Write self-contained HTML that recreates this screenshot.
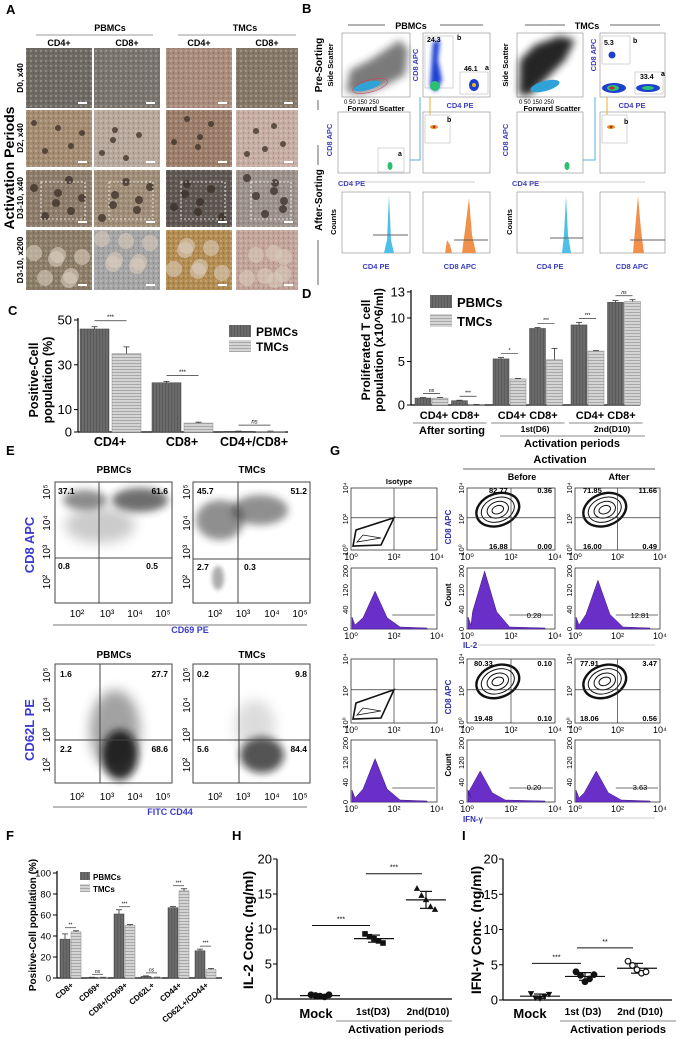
<!DOCTYPE html>
<html><head><meta charset="utf-8">
<style>
html,body{margin:0;padding:0;background:#fff;}
svg{display:block;font-family:"Liberation Sans",Arial,sans-serif;}
.b{font-weight:bold}
</style></head>
<body>
<svg id="fig" width="680" height="1039" viewBox="0 0 680 1039" xmlns="http://www.w3.org/2000/svg">
<defs>
<filter id="bl2" x="-50%" y="-50%" width="200%" height="200%"><feGaussianBlur stdDeviation="2"/></filter>
<filter id="bl4" x="-50%" y="-50%" width="200%" height="200%"><feGaussianBlur stdDeviation="4"/></filter>
<filter id="bl6" x="-50%" y="-50%" width="200%" height="200%"><feGaussianBlur stdDeviation="6"/></filter>
<pattern id="hstripe" width="4" height="3" patternUnits="userSpaceOnUse"><rect width="4" height="3" fill="#d4d4d4"/><rect width="4" height="1" fill="#a8a8a8"/></pattern>
<pattern id="dstripe" width="3" height="4" patternUnits="userSpaceOnUse"><rect width="3" height="4" fill="#6a6a6a"/><rect width="1" height="4" fill="#5a5a5a"/></pattern>
<pattern id="dots" width="5" height="5" patternUnits="userSpaceOnUse"><rect width="5" height="5" fill="none"/><circle cx="1" cy="1" r="0.7" fill="#fff" opacity="0.5"/><circle cx="3.5" cy="3" r="0.6" fill="#000" opacity="0.3"/></pattern>
</defs>

<!-- ================= PANEL A ================= -->
<g>
<text x="6" y="14" font-size="13" class="b">A</text>
<text x="110" y="31" font-size="9" class="b" text-anchor="middle">PBMCs</text>
<line x1="36" y1="35" x2="153" y2="35" stroke="#999" stroke-width="1"/>
<text x="245" y="31" font-size="9" class="b" text-anchor="middle">TMCs</text>
<line x1="178" y1="35" x2="296" y2="35" stroke="#999" stroke-width="1"/>
<text x="59" y="46" font-size="9" class="b" text-anchor="middle">CD4+</text>
<text x="127" y="46" font-size="9" class="b" text-anchor="middle">CD8+</text>
<text x="199" y="46" font-size="9" class="b" text-anchor="middle">CD4+</text>
<text x="267" y="46" font-size="9" class="b" text-anchor="middle">CD8+</text>
<text transform="translate(14,168) rotate(-90)" font-size="14" class="b" text-anchor="middle">Activation Periods</text>
<text transform="translate(23,78) rotate(-90)" font-size="8.5" class="b" text-anchor="middle">D0, x40</text>
<text transform="translate(23,138) rotate(-90)" font-size="8.5" class="b" text-anchor="middle">D2, x40</text>
<text transform="translate(23,198) rotate(-90)" font-size="8.5" class="b" text-anchor="middle">D3-10, x40</text>
<text transform="translate(23,260) rotate(-90)" font-size="8.5" class="b" text-anchor="middle">D3-10, x200</text>
<g id="photos"></g>
</g>

<!-- ================= PANEL B ================= -->
<g>
<text x="302" y="13" font-size="13" class="b">B</text>
<line x1="348" y1="25" x2="385" y2="25" stroke="#666"/><line x1="440" y1="25" x2="483" y2="25" stroke="#666"/>
<text x="411" y="29" font-size="9" class="b" text-anchor="middle">PBMCs</text>
<line x1="525" y1="25" x2="565" y2="25" stroke="#666"/><line x1="610" y1="25" x2="660" y2="25" stroke="#666"/>
<text x="587" y="29" font-size="9" class="b" text-anchor="middle">TMCs</text>
<text transform="translate(322,65) rotate(-90)" font-size="10" class="b" text-anchor="middle">Pre-Sorting</text>
<text transform="translate(322,200) rotate(-90)" font-size="10" class="b" text-anchor="middle">After-Sorting</text>
<line x1="318" y1="100" x2="318" y2="110" stroke="#666"/>
<line x1="318" y1="145" x2="318" y2="165" stroke="#666"/>
<line x1="318" y1="240" x2="318" y2="285" stroke="#666"/>
<g>
<rect x="342" y="33" width="68" height="64" fill="#fff" stroke="#888" stroke-width="0.6"/>
<path d="M346,92 L350,70 L370,60 L400,40 L408,50 L405,75 L380,88 L360,94 Z" fill="#222" opacity="0.6" filter="url(#bl4)"/>
<ellipse cx="367" cy="86" rx="14" ry="4" fill="#2fa3d8" transform="rotate(-15 367 86)"/>
<ellipse cx="370" cy="86" rx="18" ry="6" fill="none" stroke="#d04060" stroke-width="0.6" transform="rotate(-15 370 86)"/>
</g>
<text transform="translate(333,65) rotate(-90)" font-size="7.5" class="b" text-anchor="middle">Side Scatter</text>
<text x="344" y="104" font-size="6">0   50    150   250</text>
<text x="376" y="111" font-size="7.5" class="b" text-anchor="middle">Forward Scatter</text>
<g>
<rect x="423" y="33" width="67" height="64" fill="#fff" stroke="#888" stroke-width="0.6"/>
<rect x="425" y="36" width="28" height="52" fill="none" stroke="#aaa" stroke-width="0.5"/>
<rect x="460" y="72" width="28" height="22" fill="none" stroke="#aaa" stroke-width="0.5"/>
<path d="M433,42 L440,40 L438,60 L442,80 L436,92 L430,86 Z" fill="#1e3fd0" filter="url(#bl2)"/>
<ellipse cx="435" cy="86" rx="5" ry="5" fill="#2bc070"/>
<ellipse cx="474" cy="85" rx="5" ry="6" fill="#1e3fd0"/><ellipse cx="474" cy="85" rx="2" ry="2" fill="#e0c020"/>
<text x="427" y="42" font-size="7" class="b">24.3</text><text x="457" y="40" font-size="7" class="b">b</text>
<text x="464" y="71" font-size="7" class="b">46.1</text><text x="485" y="70" font-size="7" class="b">a</text>
</g>
<text transform="translate(418,65) rotate(-90)" font-size="7.5" class="b" fill="#4040c0" text-anchor="middle">CD8 APC</text>
<text x="460" y="108" font-size="7.5" class="b" fill="#4040c0" text-anchor="middle">CD4 PE</text>
<g>
<rect x="517" y="33" width="66" height="64" fill="#fff" stroke="#888" stroke-width="0.6"/>
<path d="M519,95 L520,60 L535,45 L560,36 L575,40 L565,60 L545,80 L530,95 Z" fill="#000" opacity="0.85" filter="url(#bl4)"/>
<ellipse cx="545" cy="86" rx="15" ry="5" fill="#2fa3d8" transform="rotate(-15 545 86)"/>
</g>
<text transform="translate(508,65) rotate(-90)" font-size="7.5" class="b" text-anchor="middle">Side Scatter</text>
<text x="519" y="104" font-size="6">0   50    150   250</text>
<text x="552" y="111" font-size="7.5" class="b" text-anchor="middle">Forward Scatter</text>
<g>
<rect x="600" y="33" width="65" height="64" fill="#fff" stroke="#888" stroke-width="0.6"/>
<rect x="602" y="36" width="28" height="28" fill="none" stroke="#aaa" stroke-width="0.5"/>
<rect x="635" y="72" width="28" height="22" fill="none" stroke="#aaa" stroke-width="0.5"/>
<circle cx="612" cy="55" r="3.5" fill="#1e3fd0"/>
<ellipse cx="614" cy="88" rx="12" ry="5" fill="#1e3fd0"/><ellipse cx="613" cy="88" rx="6" ry="3" fill="#2bc070"/><ellipse cx="612" cy="88" rx="2.5" ry="1.5" fill="#d02020"/>
<ellipse cx="648" cy="88" rx="12" ry="4" fill="#1e3fd0"/><ellipse cx="648" cy="88" rx="6" ry="2" fill="#2bc070"/>
<text x="604" y="45" font-size="7" class="b">5.3</text><text x="633" y="43" font-size="7" class="b">b</text>
<text x="640" y="79" font-size="7" class="b">33.4</text><text x="661" y="76" font-size="7" class="b">a</text>
</g>
<text transform="translate(596,55) rotate(-90)" font-size="7.5" class="b" fill="#4040c0" text-anchor="middle">CD8 APC</text>
<text x="632" y="108" font-size="7.5" class="b" fill="#4040c0" text-anchor="middle">CD4 PE</text>
<rect x="338" y="112" width="72" height="61" fill="#fff" stroke="#888" stroke-width="0.6"/>
<rect x="378" y="148" width="26" height="24" fill="none" stroke="#aaa" stroke-width="0.5"/>
<ellipse cx="390" cy="166" rx="2.5" ry="4" fill="#2bc070"/>
<text x="398" y="156" font-size="7" class="b">a</text>
<path d="M410,160 L420,160 L420,97" fill="none" stroke="#5bb0d8" stroke-width="1"/>
<rect x="423" y="112" width="67" height="61" fill="#fff" stroke="#888" stroke-width="0.6"/>
<rect x="425" y="115" width="25" height="28" fill="none" stroke="#aaa" stroke-width="0.5"/>
<ellipse cx="434" cy="127" rx="4" ry="2" fill="#e09020"/><circle cx="434" cy="127" r="1.2" fill="#c02020"/>
<text x="447" y="122" font-size="7" class="b">b</text>
<line x1="430" y1="97" x2="430" y2="115" stroke="#e0b030"/>
<text transform="translate(332,140) rotate(-90)" font-size="7.5" class="b" fill="#4040c0" text-anchor="middle">CD8 APC</text>
<text x="338" y="186" font-size="7.5" class="b" fill="#4040c0">CD4 PE</text>
<line x1="340" y1="182" x2="475" y2="182" stroke="#999" stroke-width="0.6"/>
<rect x="517" y="112" width="66" height="61" fill="#fff" stroke="#888" stroke-width="0.6"/>
<ellipse cx="567" cy="166" rx="2.5" ry="4" fill="#2bc070"/>
<path d="M583,160 L595,160 L595,97" fill="none" stroke="#5bb0d8" stroke-width="1"/>
<rect x="600" y="112" width="65" height="61" fill="#fff" stroke="#888" stroke-width="0.6"/>
<rect x="602" y="115" width="25" height="28" fill="none" stroke="#aaa" stroke-width="0.5"/>
<ellipse cx="611" cy="127" rx="4" ry="2" fill="#e09020"/><circle cx="611" cy="127" r="1.2" fill="#c02020"/>
<text x="624" y="124" font-size="7" class="b">b</text>
<line x1="607" y1="97" x2="607" y2="115" stroke="#e0b030"/>
<text transform="translate(508,140) rotate(-90)" font-size="7.5" class="b" fill="#4040c0" text-anchor="middle">CD8 APC</text>
<text x="512" y="186" font-size="7.5" class="b" fill="#4040c0">CD4 PE</text>
<line x1="515" y1="182" x2="645" y2="182" stroke="#999" stroke-width="0.6"/>
<g>
<rect x="342" y="192" width="68" height="61" fill="#fff" stroke="#888" stroke-width="0.6"/>
<path d="M384,253 L387,240 L389,195 L391,240 L394,253 Z" fill="#4cc0e8"/>
<line x1="373" y1="235" x2="408" y2="235" stroke="#666"/>
<rect x="423" y="192" width="67" height="61" fill="#fff" stroke="#888" stroke-width="0.6"/>
<path d="M445,253 L447,240 L450,245 L452,253 L462,253 L465,230 L469,198 L472,235 L476,253 Z" fill="#f0904a"/>
<line x1="454" y1="240" x2="488" y2="240" stroke="#666"/>
<rect x="517" y="192" width="66" height="61" fill="#fff" stroke="#888" stroke-width="0.6"/>
<path d="M562,253 L564,235 L566,196 L568,235 L571,253 Z" fill="#4cc0e8"/>
<line x1="550" y1="238" x2="583" y2="238" stroke="#666"/>
<rect x="600" y="192" width="65" height="61" fill="#fff" stroke="#888" stroke-width="0.6"/>
<path d="M633,253 L635,230 L638,196 L641,230 L644,253 Z" fill="#f0904a"/>
<line x1="630" y1="240" x2="665" y2="240" stroke="#666"/>
</g>
<text transform="translate(336,222) rotate(-90)" font-size="7.5" class="b" text-anchor="middle">Counts</text>
<text transform="translate(512,222) rotate(-90)" font-size="7.5" class="b" text-anchor="middle">Counts</text>
<text x="376" y="269" font-size="7.5" class="b" fill="#4040c0" text-anchor="middle">CD4 PE</text>
<text x="460" y="269" font-size="7.5" class="b" fill="#4040c0" text-anchor="middle">CD8 APC</text>
<text x="550" y="269" font-size="7.5" class="b" fill="#4040c0" text-anchor="middle">CD4 PE</text>
<text x="632" y="269" font-size="7.5" class="b" fill="#4040c0" text-anchor="middle">CD8 APC</text>
</g>

<!-- ================= PANEL C ================= -->
<g id="panelC">
<text x="8" y="315" font-size="13" class="b">C</text>
<text transform="translate(38,380) rotate(-90)" font-size="12.5" class="b" text-anchor="middle">Positive-Cell</text>
<text transform="translate(52,380) rotate(-90)" font-size="12.5" class="b" text-anchor="middle">population (%)</text>
</g>

<!-- ================= PANEL D ================= -->
<g id="panelD">
<text x="302" y="298" font-size="13" class="b">D</text>
<text transform="translate(370,350) rotate(-90)" font-size="12" class="b" text-anchor="middle">Proliferated T cell</text>
<text transform="translate(383,350) rotate(-90)" font-size="12" class="b" text-anchor="middle">population (x10^6/ml)</text>
</g>

<!-- ================= PANEL E ================= -->
<g>
<text x="6" y="455" font-size="13" class="b">E</text>
<text x="114" y="473" font-size="10" class="b" text-anchor="middle">PBMCs</text>
<text x="252" y="473" font-size="10" class="b" text-anchor="middle">TMCs</text>
<text transform="translate(34,545) rotate(-90)" font-size="13" class="b" fill="#3a3ad0" text-anchor="middle">CD8 APC</text>
<g>
<rect x="55" y="482" width="117" height="121" fill="#fff"/>
<ellipse cx="85" cy="500" rx="22" ry="10" fill="#333" opacity="0.55" filter="url(#bl4)"/>
<ellipse cx="140" cy="500" rx="28" ry="12" fill="#222" opacity="0.65" filter="url(#bl4)"/>
<ellipse cx="100" cy="525" rx="35" ry="18" fill="#555" opacity="0.3" filter="url(#bl6)"/>
<rect x="55" y="482" width="117" height="121" fill="none" stroke="#444"/>
<line x1="99" y1="482" x2="99" y2="603" stroke="#444"/><line x1="55" y1="558" x2="172" y2="558" stroke="#444"/>
<text x="58" y="494" font-size="8.5" class="b">37.1</text><text x="168" y="494" font-size="8.5" class="b" text-anchor="end">61.6</text>
<text x="58" y="569" font-size="8.5" class="b">0.8</text><text x="158" y="569" font-size="8.5" class="b" text-anchor="end">0.5</text>
</g>
<g>
<rect x="193" y="482" width="117" height="121" fill="#fff"/>
<ellipse cx="220" cy="520" rx="24" ry="20" fill="#222" opacity="0.5" filter="url(#bl4)"/>
<ellipse cx="260" cy="510" rx="28" ry="15" fill="#222" opacity="0.5" filter="url(#bl4)"/>
<ellipse cx="218" cy="578" rx="6" ry="12" fill="#333" opacity="0.4" filter="url(#bl2)"/>
<rect x="193" y="482" width="117" height="121" fill="none" stroke="#444"/>
<line x1="238" y1="482" x2="238" y2="603" stroke="#444"/><line x1="193" y1="559" x2="310" y2="559" stroke="#444"/>
<text x="197" y="494" font-size="8.5" class="b">45.7</text><text x="307" y="494" font-size="8.5" class="b" text-anchor="end">51.2</text>
<text x="197" y="570" font-size="8.5" class="b">2.7</text><text x="244" y="570" font-size="8.5" class="b">0.3</text>
</g>
<g font-size="10">
<text x="77" y="617" text-anchor="middle">10²</text><text x="107" y="617" text-anchor="middle">10³</text><text x="135" y="617" text-anchor="middle">10⁴</text><text x="163" y="617" text-anchor="middle">10⁵</text>
<text x="215" y="617" text-anchor="middle">10²</text><text x="243" y="617" text-anchor="middle">10³</text><text x="272" y="617" text-anchor="middle">10⁴</text><text x="300" y="617" text-anchor="middle">10⁵</text>
<text transform="translate(50,492) rotate(-90)" text-anchor="middle">10⁵</text><text transform="translate(50,523) rotate(-90)" text-anchor="middle">10⁴</text>
<text transform="translate(50,552) rotate(-90)" text-anchor="middle">10³</text><text transform="translate(50,582) rotate(-90)" text-anchor="middle">10²</text>
<text transform="translate(190,492) rotate(-90)" text-anchor="middle">10⁵</text><text transform="translate(190,523) rotate(-90)" text-anchor="middle">10⁴</text>
<text transform="translate(190,552) rotate(-90)" text-anchor="middle">10³</text><text transform="translate(190,582) rotate(-90)" text-anchor="middle">10²</text>
</g>
<line x1="53" y1="625" x2="307" y2="625" stroke="#777"/>
<text x="190" y="633" font-size="9" class="b" fill="#3a3ad0" text-anchor="middle">CD69 PE</text>

<text x="114" y="658" font-size="10" class="b" text-anchor="middle">PBMCs</text>
<text x="252" y="658" font-size="10" class="b" text-anchor="middle">TMCs</text>
<text transform="translate(34,730) rotate(-90)" font-size="13" class="b" fill="#3a3ad0" text-anchor="middle">CD62L PE</text>
<g>
<rect x="55" y="664" width="117" height="119" fill="#fff"/>
<ellipse cx="115" cy="730" rx="25" ry="40" fill="#333" opacity="0.45" filter="url(#bl6)"/>
<ellipse cx="120" cy="755" rx="18" ry="25" fill="#111" opacity="0.85" filter="url(#bl4)"/>
<rect x="55" y="664" width="117" height="119" fill="none" stroke="#444"/>
<line x1="100" y1="664" x2="100" y2="783" stroke="#444"/><line x1="55" y1="740" x2="172" y2="740" stroke="#444"/>
<text x="60" y="677" font-size="8.5" class="b">1.6</text><text x="168" y="677" font-size="8.5" class="b" text-anchor="end">27.7</text>
<text x="60" y="752" font-size="8.5" class="b">2.2</text><text x="168" y="752" font-size="8.5" class="b" text-anchor="end">68.6</text>
</g>
<g>
<rect x="193" y="664" width="117" height="119" fill="#fff"/>
<ellipse cx="262" cy="755" rx="22" ry="18" fill="#111" opacity="0.7" filter="url(#bl4)"/>
<ellipse cx="255" cy="725" rx="20" ry="25" fill="#555" opacity="0.2" filter="url(#bl6)"/>
<rect x="193" y="664" width="117" height="119" fill="none" stroke="#444"/>
<line x1="239" y1="664" x2="239" y2="783" stroke="#444"/><line x1="193" y1="740" x2="310" y2="740" stroke="#444"/>
<text x="197" y="677" font-size="8.5" class="b">0.2</text><text x="307" y="677" font-size="8.5" class="b" text-anchor="end">9.8</text>
<text x="197" y="752" font-size="8.5" class="b">5.6</text><text x="307" y="752" font-size="8.5" class="b" text-anchor="end">84.4</text>
</g>
<g font-size="10">
<text x="77" y="800" text-anchor="middle">10²</text><text x="107" y="800" text-anchor="middle">10³</text><text x="135" y="800" text-anchor="middle">10⁴</text><text x="163" y="800" text-anchor="middle">10⁵</text>
<text x="215" y="800" text-anchor="middle">10²</text><text x="243" y="800" text-anchor="middle">10³</text><text x="272" y="800" text-anchor="middle">10⁴</text><text x="300" y="800" text-anchor="middle">10⁵</text>
<text transform="translate(50,675) rotate(-90)" text-anchor="middle">10⁵</text><text transform="translate(50,705) rotate(-90)" text-anchor="middle">10⁴</text>
<text transform="translate(50,735) rotate(-90)" text-anchor="middle">10³</text><text transform="translate(50,765) rotate(-90)" text-anchor="middle">10²</text>
<text transform="translate(190,675) rotate(-90)" text-anchor="middle">10⁵</text><text transform="translate(190,705) rotate(-90)" text-anchor="middle">10⁴</text>
<text transform="translate(190,735) rotate(-90)" text-anchor="middle">10³</text><text transform="translate(190,765) rotate(-90)" text-anchor="middle">10²</text>
</g>
<line x1="53" y1="807" x2="307" y2="807" stroke="#777"/>
<text x="170" y="815" font-size="9" class="b" fill="#3a3ad0" text-anchor="middle">FITC CD44</text>
</g>

<!-- ================= PANEL G ================= -->
<g>
<text x="330" y="455" font-size="13" class="b">G</text>
<text x="560" y="463" font-size="11" class="b" text-anchor="middle">Activation</text>
<line x1="463" y1="469" x2="655" y2="469" stroke="#666"/>
<text x="522" y="480" font-size="9" class="b" text-anchor="middle">Before</text>
<text x="619" y="480" font-size="9" class="b" text-anchor="middle">After</text>
<text x="399" y="484" font-size="7.5" class="b" text-anchor="middle">Isotype</text>
<g id="gplots"></g>
<text transform="translate(451,527) rotate(-90)" font-size="8" class="b" fill="#3030b0" text-anchor="middle">CD8 APC</text>
<text transform="translate(451,697) rotate(-90)" font-size="8" class="b" fill="#3030b0" text-anchor="middle">CD8 APC</text>
<text transform="translate(451,595) rotate(-90)" font-size="8" class="b" text-anchor="middle">Count</text>
<text transform="translate(451,765) rotate(-90)" font-size="8" class="b" text-anchor="middle">Count</text>
<text x="463" y="648" font-size="8" class="b" fill="#3030b0">IL-2</text>
<line x1="478" y1="645" x2="655" y2="645" stroke="#999" stroke-width="0.6"/>
<text x="463" y="822" font-size="8" class="b" fill="#3030b0">IFN-γ</text>
<line x1="485" y1="818" x2="655" y2="818" stroke="#999" stroke-width="0.6"/>
<text x="489" y="493" font-size="7.5" class="b">82.77</text><text x="552" y="493" font-size="7.5" class="b" text-anchor="end">0.36</text>
<text x="489" y="549" font-size="7.5" class="b">16.88</text><text x="552" y="549" font-size="7.5" class="b" text-anchor="end">0.00</text>
<text x="583" y="493" font-size="7.5" class="b">71.85</text><text x="657" y="493" font-size="7.5" class="b" text-anchor="end">11.66</text>
<text x="583" y="549" font-size="7.5" class="b">16.00</text><text x="657" y="549" font-size="7.5" class="b" text-anchor="end">0.49</text>
<text x="534" y="618" font-size="7.5" text-anchor="middle">0.28</text>
<text x="640" y="618" font-size="7.5" text-anchor="middle">12.81</text>
<text x="474" y="666" font-size="7.5" class="b">80.33</text><text x="552" y="666" font-size="7.5" class="b" text-anchor="end">0.10</text>
<text x="474" y="721" font-size="7.5" class="b">19.48</text><text x="552" y="721" font-size="7.5" class="b" text-anchor="end">0.10</text>
<text x="580" y="666" font-size="7.5" class="b">77.91</text><text x="657" y="666" font-size="7.5" class="b" text-anchor="end">3.47</text>
<text x="580" y="721" font-size="7.5" class="b">18.06</text><text x="657" y="721" font-size="7.5" class="b" text-anchor="end">0.56</text>
<text x="534" y="790" font-size="7.5" text-anchor="middle">0.20</text>
<text x="640" y="790" font-size="7.5" text-anchor="middle">3.63</text>
</g>

<g id="panelF">
<text x="6" y="840" font-size="13" class="b">F</text>
<text transform="translate(36,925) rotate(-90)" font-size="10" class="b" text-anchor="middle">Positive-Cell population (%)</text>
</g>
<g id="panelH">
<text x="232" y="840" font-size="13" class="b">H</text>
<text transform="translate(253,930) rotate(-90)" font-size="14" class="b" text-anchor="middle">IL-2 Conc. (ng/ml)</text>
</g>
<g id="panelI">
<text x="462" y="840" font-size="13" class="b">I</text>
<text transform="translate(481,930) rotate(-90)" font-size="14" class="b" text-anchor="middle">IFN-γ Conc. (ng/ml)</text>
</g>
</svg>

<script>
const NS = 'http://www.w3.org/2000/svg';
function mk(tag, attrs, parent) {
  const e = document.createElementNS(NS, tag);
  for (const k in attrs) e.setAttribute(k, attrs[k]);
  parent.appendChild(e);
  return e;
}
function txt(parent, x, y, s, size, extra) {
  const t = mk('text', Object.assign({x: x, y: y, 'font-size': size}, extra || {}), parent);
  t.textContent = s;
  return t;
}

/* ---------- Panel C data ---------- */
const cCategories = ['CD4+', 'CD8+', 'CD4+/CD8+'];
const cPbmc = [46, 22, 0.3];
const cTmc = [35, 4, 0.3];
const cPbmcErr = [1, 0.6, 0.1];
const cTmcErr = [3, 0.4, 0.1];
const cSig = ['***', '***', 'ns'];
const cTicks = [0, 10, 30, 50];

/* ---------- Panel D data ---------- */
const dCategories = ['CD4+', 'CD8+', 'CD4+', 'CD8+', 'CD4+', 'CD8+'];
const dPbmc = [0.8, 0.5, 5.3, 8.8, 9.2, 11.8];
const dTmc = [0.8, 0.05, 3.0, 5.2, 6.2, 11.9];
const dPbmcErr = [0.05, 0.05, 0.15, 0.1, 0.3, 0.2];
const dTmcErr = [0.05, 0.02, 0.05, 1.3, 0.05, 0.2];
const dSig = ['ns', '***', '*', '***', '***', 'ns'];
const dTicks = [0, 5, 10, 13];

/* ---------- Panel F data ---------- */
const fCategories = ['CD8+', 'CD69+', 'CD8+/CD69+', 'CD62L+', 'CD44+', 'CD62L+/CD44+'];
const fPbmc = [37, 0.5, 61, 1.5, 67, 26];
const fTmc = [44, 0.5, 50, 0.5, 83, 8];
const fPbmcErr = [5, 0.2, 4, 0.5, 1, 1.5];
const fTmcErr = [1, 0.2, 1, 0.3, 2, 1];
const fSig = ['**', 'ns', '***', 'ns', '***', '***'];
const fTicks = [0, 20, 40, 60, 80, 100];

/* ---------- Panel H data ---------- */
const hGroups = ['Mock', '1st(D3)', '2nd(D10)'];
const hMock = [0.6, 0.5, 0.4, 0.3, 0.6];
const hFirst = [9.3, 8.9, 8.6, 8.3, 8.0];
const hSecond = [15.8, 14.8, 14.2, 13.2, 12.8];
const hTicks = [0, 5, 10, 15, 20];
const hSigLevels = [10.5, 17.9];

/* ---------- Panel I data ---------- */
const iGroups = ['Mock', '1st (D3)', '2nd (D10)'];
const iMock = [0.9, 0.3, 0.2, 0.5, 0.8];
const iFirst = [4.0, 3.5, 2.6, 3.0, 3.6];
const iSecond = [5.5, 4.9, 4.3, 3.8, 4.0];
const iTicks = [0, 5, 10, 15, 20];
const iSigLevels = [5.2, 7.4];

/* ---------- Panel A photos ---------- */
const photoCols = [[26, 66], [94, 66], [166, 66], [236, 62]];
const photoRows = [[48, 60], [110, 57], [170, 57], [230, 60]];
const photoColors = [
  ['#6f6a63', '#7a766f', '#a98c7b', '#857868'],
  ['#a48c72', '#b7a89b', '#9c7d69', '#c6ada3'],
  ['#8d7c6a', '#a08d78', '#5f5751', '#9d918b'],
  ['#8b7d67', '#a4a4a4', '#b38c52', '#c2a49a']
];
(function () {
  const g = document.getElementById('photos');
  photoRows.forEach((r, ri) => {
    photoCols.forEach((c, ci) => {
      const p = mk('rect', {x: c[0], y: r[0], width: c[1], height: r[1], fill: photoColors[ri][ci]}, g);
      
      
      mk('rect', {x: c[0], y: r[0], width: c[1], height: r[1], fill: 'url(#dots)'}, g);
      if (ri >= 1) {
        const n = ri === 1 ? 5 : 7;
        for (let k = 0; k < n; k++) {
          const cx = c[0] + 8 + ((k * 37 + ci * 13) % (c[1] - 16));
          const cy = r[0] + 8 + ((k * 23 + ci * 7 + ri * 5) % (r[1] - 16));
          const rad = ri === 3 ? 8 : (ri === 2 ? 4 : 3);
          mk('circle', {cx: cx, cy: cy, r: rad, fill: ri === 3 ? '#d8ccbc' : '#3a2e26', opacity: ri === 3 ? 0.6 : 0.75}, g);
        }
      }
      if (ri === 2) mk('rect', {x: c[0] + 15, y: r[0] + 12, width: c[1] - 22, height: r[1] - 20, fill: 'none', stroke: '#fff', 'stroke-dasharray': '2,2', 'stroke-width': 0.8}, g);
      mk('rect', {x: c[0] + c[1] - 14, y: r[0] + r[1] - 6, width: 9, height: 2, fill: '#fff'}, g);
    });
  });
})();

function barChart(opt) {
  const g = document.getElementById(opt.id);
  const y = opt.y;
  mk('line', {x1: opt.ax, y1: y(opt.ticks[opt.ticks.length - 1]) - 2, x2: opt.ax, y2: y(0), stroke: '#000', 'stroke-width': 1.2}, g);
  mk('line', {x1: opt.ax, y1: y(0), x2: opt.axEnd, y2: y(0), stroke: '#000', 'stroke-width': 1.2}, g);
  opt.ticks.forEach(t => {
    mk('line', {x1: opt.ax - 4, y1: y(t), x2: opt.ax, y2: y(t), stroke: '#000'}, g);
    const tl = txt(g, opt.ax - 6, y(t) + opt.tickSize * 0.35, String(t), opt.tickSize, {'text-anchor': 'end'});
    
    
  });
  opt.a.forEach((v, i) => {
    const x0 = opt.x(i);
    const b1 = mk('rect', {x: x0, y: y(v), width: opt.w, height: y(0) - y(v), fill: 'url(#dstripe)', stroke: '#444', 'stroke-width': 0.5}, g);
    
    
    const v2 = opt.b[i];
    const b2 = mk('rect', {x: x0 + opt.w + opt.gap, y: y(v2), width: opt.w, height: y(0) - y(v2), fill: 'url(#hstripe)', stroke: '#888', 'stroke-width': 0.5}, g);
    
    
    [[x0 + opt.w / 2, v, opt.ae[i]], [x0 + opt.w * 1.5 + opt.gap, v2, opt.be[i]]].forEach(e => {
      mk('line', {x1: e[0], y1: y(e[1]), x2: e[0], y2: y(e[1] + e[2]), stroke: '#333', 'stroke-width': 0.8}, g);
      mk('line', {x1: e[0] - 3, y1: y(e[1] + e[2]), x2: e[0] + 3, y2: y(e[1] + e[2]), stroke: '#333', 'stroke-width': 0.8}, g);
    });
    const top = Math.max(v + opt.ae[i], v2 + opt.be[i]);
    const sy = y(top) - opt.sigOff;
    mk('line', {x1: x0 + opt.w / 2, y1: sy, x2: x0 + opt.w * 1.5 + opt.gap, y2: sy, stroke: '#333', 'stroke-width': 0.7}, g);
    const st = txt(g, x0 + opt.w + opt.gap / 2, sy - 1.5, opt.sig[i], opt.sigSize, {'text-anchor': 'middle', 'font-style': opt.sig[i] === 'ns' ? 'italic' : 'normal'});
    
    
  });
  return g;
}

const yC = v => 432 - v * 112 / 50;
const gC = barChart({id: 'panelC', ax: 78, axEnd: 288, y: yC, ticks: cTicks, tickSize: 13,
  x: i => 80 + i * 72, w: 29, gap: 3, a: cPbmc, b: cTmc, ae: cPbmcErr, be: cTmcErr, sig: cSig, sigOff: 6, sigSize: 6});
cCategories.forEach((c, i) => {
  const t = txt(gC, 80 + i * 72 + 30, 446, c, 12.5, {'text-anchor': 'middle', 'font-weight': 'bold'});
  
  
});
mk('rect', {x: 229, y: 325, width: 22, height: 12, fill: 'url(#dstripe)'}, gC);
mk('rect', {x: 229, y: 340, width: 22, height: 12, fill: 'url(#hstripe)'}, gC);
const lc1 = txt(gC, 256, 336, 'PBMCs', 12, {'font-weight': 'bold'});


const lc2 = txt(gC, 256, 351, 'TMCs', 12, {'font-weight': 'bold'});



const yD = v => 405 - v * 8.7;
const xD = i => 415 + i * 36.5 + (i < 2 ? 0 : i < 4 ? 5 : 10);
const gD = barChart({id: 'panelD', ax: 411, axEnd: 640, y: yD, ticks: dTicks, tickSize: 13,
  x: xD, w: 16, gap: 1, a: dPbmc, b: dTmc, ae: dPbmcErr, be: dTmcErr, sig: dSig, sigOff: 4, sigSize: 5});
[0, 2, 4].forEach(i => {
  const cx = (xD(i) + xD(i + 1) + 33) / 2;
  const t = txt(gD, cx, 419, dCategories[i] + ' ' + dCategories[i + 1], 11, {'text-anchor': 'middle', 'font-weight': 'bold'});
  
  
  mk('line', {x1: xD(i) - 2, y1: 423, x2: xD(i + 1) + 35, y2: 423, stroke: '#888'}, gD);
});
txt(gD, 452, 434, 'After sorting', 11, {'text-anchor': 'middle', 'font-weight': 'bold'});
txt(gD, 535, 432, '1st(D6)', 8.5, {'text-anchor': 'middle', 'font-weight': 'bold'});
txt(gD, 612, 432, '2nd(D10)', 8.5, {'text-anchor': 'middle', 'font-weight': 'bold'});
mk('line', {x1: 500, y1: 436, x2: 645, y2: 436, stroke: '#888'}, gD);
txt(gD, 572, 447, 'Activation periods', 11, {'text-anchor': 'middle', 'font-weight': 'bold'});
mk('rect', {x: 430, y: 295, width: 22, height: 13, fill: 'url(#dstripe)'}, gD);
mk('rect', {x: 430, y: 314, width: 22, height: 13, fill: 'url(#hstripe)'}, gD);
const ld1 = txt(gD, 457, 307, 'PBMCs', 13, {'font-weight': 'bold'});


const ld2 = txt(gD, 457, 326, 'TMCs', 13, {'font-weight': 'bold'});



const yF = v => 978 - v * 1.05;
const xF = i => 60 + i * 27;
const gF = barChart({id: 'panelF', ax: 57, axEnd: 222, y: yF, ticks: fTicks, tickSize: 9.5,
  x: xF, w: 10, gap: 1, a: fPbmc, b: fTmc, ae: fPbmcErr, be: fTmcErr, sig: fSig, sigOff: 3, sigSize: 5});
fCategories.forEach((c, i) => {
  const t = txt(gF, 0, 0, c, 8, {'text-anchor': 'end', 'font-weight': 'bold', transform: 'translate(' + (xF(i) + 14) + ',986) rotate(-40)'});
  
  
});
mk('rect', {x: 80, y: 872, width: 10, height: 8, fill: 'url(#dstripe)'}, gF);
mk('rect', {x: 80, y: 884, width: 10, height: 8, fill: 'url(#hstripe)'}, gF);
txt(gF, 93, 880, 'PBMCs', 8, {'font-weight': 'bold'});
txt(gF, 93, 892, 'TMCs', 8, {'font-weight': 'bold'});

function marker(g, shape, x, y) {
  let m;
  if (shape === 'circle' || shape === 'open') m = mk('circle', {cx: x, cy: y, r: 2.8, fill: shape === 'open' ? '#fff' : '#111', stroke: '#111', 'stroke-width': 1.2}, g);
  else if (shape === 'square') m = mk('rect', {x: x - 2.8, y: y - 2.8, width: 5.6, height: 5.6, fill: '#111'}, g);
  else if (shape === 'tri') m = mk('path', {d: `M${x},${y - 3.3} L${x + 3.2},${y + 2.5} L${x - 3.2},${y + 2.5} Z`, fill: '#111'}, g);
  else m = mk('path', {d: `M${x},${y + 3.3} L${x + 3.2},${y - 2.5} L${x - 3.2},${y - 2.5} Z`, fill: '#111'}, g);
  
  
}
function dotChart(opt) {
  const g = document.getElementById(opt.id);
  const y = opt.y;
  mk('line', {x1: opt.ax, y1: y(20), x2: opt.ax, y2: y(0), stroke: '#000', 'stroke-width': 1.2}, g);
  mk('line', {x1: opt.ax, y1: y(0), x2: opt.axEnd, y2: y(0), stroke: '#000', 'stroke-width': 1.2}, g);
  opt.ticks.forEach(t => {
    mk('line', {x1: opt.ax - 4, y1: y(t), x2: opt.ax, y2: y(t), stroke: '#000'}, g);
    const tl = txt(g, opt.ax - 5, y(t) + 4.5, String(t), 13, {'text-anchor': 'end'});
    
    
  });
  opt.series.forEach((s, gi) => {
    const cx = opt.xs[gi];
    const mean = s.reduce((a, b) => a + b, 0) / s.length;
    const sd = Math.sqrt(s.reduce((a, b) => a + (b - mean) * (b - mean), 0) / (s.length - 1));
    mk('line', {x1: cx - 20, y1: y(mean), x2: cx + 20, y2: y(mean), stroke: '#111', 'stroke-width': 1.2}, g);
    mk('line', {x1: cx, y1: y(mean + sd), x2: cx, y2: y(mean - sd), stroke: '#111', 'stroke-width': 1.2}, g);
    mk('line', {x1: cx - 6, y1: y(mean + sd), x2: cx + 6, y2: y(mean + sd), stroke: '#111', 'stroke-width': 1.2}, g);
    mk('line', {x1: cx - 6, y1: y(mean - sd), x2: cx + 6, y2: y(mean - sd), stroke: '#111', 'stroke-width': 1.2}, g);
    s.forEach((v, k) => marker(g, opt.shapes[gi], cx + (k - 2) * 4.5, y(v)));
  });
  opt.sig.forEach((lv, k) => {
    const x1 = opt.xs[k] - 8, x2 = opt.xs[k + 1] - 4;
    mk('line', {x1: x1, y1: y(lv), x2: x2, y2: y(lv), stroke: '#111', 'stroke-width': 1}, g);
    const st = txt(g, (x1 + x2) / 2, y(lv) - 4, opt.sigText[k], 7, {'text-anchor': 'middle'});
    
    
  });
  return g;
}
const yH = v => 999 - v * 7;
const gH = dotChart({id: 'panelH', ax: 277, axEnd: 452, y: yH, ticks: hTicks, xs: [320, 374, 426],
  series: [hMock, hFirst, hSecond], shapes: ['circle', 'square', 'tri'], sig: hSigLevels, sigText: ['***', '***']});
txt(gH, 316, 1018, hGroups[0], 13, {'text-anchor': 'middle', 'font-weight': 'bold'});
txt(gH, 373, 1015, hGroups[1], 10, {'text-anchor': 'middle', 'font-weight': 'bold'});
txt(gH, 428, 1015, hGroups[2], 10, {'text-anchor': 'middle', 'font-weight': 'bold'});
mk('line', {x1: 336, y1: 1021, x2: 452, y2: 1021, stroke: '#888'}, gH);
txt(gH, 396, 1033, 'Activation periods', 11, {'text-anchor': 'middle', 'font-weight': 'bold'});

const yI = v => 1000 - v * 7.05;
const gI = dotChart({id: 'panelI', ax: 503, axEnd: 672, y: yI, ticks: iTicks, xs: [540, 585, 637],
  series: [iMock, iFirst, iSecond], shapes: ['tridown', 'circle', 'open'], sig: iSigLevels, sigText: ['***', '**']});
txt(gI, 530, 1018, iGroups[0], 13, {'text-anchor': 'middle', 'font-weight': 'bold'});
txt(gI, 583, 1015, iGroups[1], 10, {'text-anchor': 'middle', 'font-weight': 'bold'});
txt(gI, 640, 1015, iGroups[2], 10, {'text-anchor': 'middle', 'font-weight': 'bold'});
mk('line', {x1: 560, y1: 1021, x2: 676, y2: 1021, stroke: '#888'}, gI);
txt(gI, 618, 1033, 'Activation periods', 11, {'text-anchor': 'middle', 'font-weight': 'bold'});

const gCols = [[351, 86], [467, 88], [575, 85]];
const gRows = [[488, 62, 'contour'], [568, 61, 'hist'], [659, 64, 'contour'], [740, 62, 'hist']];
const gHistPeak = [[0.28, 0.62], [0.2, 0.95], [0.27, 0.8], [0.28, 0.7], [0.15, 0.5], [0.25, 0.5]];
(function () {
  const g = document.getElementById('gplots');
  gRows.forEach((r, ri) => {
    gCols.forEach((c, ci) => {
      const x = c[0], y = r[0], w = c[1], h = r[1];
      const box = mk('rect', {x: x, y: y, width: w, height: h, fill: '#fff', stroke: '#333', 'stroke-width': 0.8}, g);
      
      
      if (r[2] === 'contour') {
        const qx = x + w * 0.5, qy = y + h * 0.48;
        if (ci === 0) {
          mk('path', {d: `M${x + 2},${y + h - 4} L${x + 5},${y + h - 20} L${qx},${qy} L${x + 30},${y + h - 5} Z`, fill: 'none', stroke: '#111', 'stroke-width': 1.6}, g);
          mk('path', {d: `M${x + 6},${y + h - 8} L${x + 12},${y + h - 15} L${x + 30},${y + h - 12} Z`, fill: 'none', stroke: '#111', 'stroke-width': 0.8}, g);
        } else {
          const cx = x + w * 0.35, cy = y + h * 0.35;
          [[22, 16, 2.4], [17, 12, 1], [11, 8, 1], [6, 4, 1]].forEach(e => mk('ellipse', {cx: cx, cy: cy, rx: e[0], ry: e[1], fill: 'none', stroke: '#111', 'stroke-width': e[2], transform: `rotate(-20 ${cx} ${cy})`}, g));
        }
        mk('line', {x1: qx, y1: y, x2: qx, y2: y + h, stroke: '#333', 'stroke-width': 0.7}, g);
        mk('line', {x1: x, y1: qy, x2: x + w, y2: qy, stroke: '#333', 'stroke-width': 0.7}, g);
      } else {
        const pk = gHistPeak[(ri === 1 ? 0 : 3) + ci];
        const px = x + w * pk[0], ph = h * pk[1];
        mk('path', {d: `M${x + 1},${y + h} L${x + 1},${y + h - 12} L${x + 4},${y + h - 4} L${px - 12},${y + h - ph * 0.3} L${px},${y + h - ph} L${px + 12},${y + h - ph * 0.3} L${px + 25},${y + h - 2} L${x + w - 10},${y + h - 1} L${x + w - 10},${y + h} Z`, fill: '#6a2fc8', stroke: '#3a1a80', 'stroke-width': 0.5}, g);
        mk('line', {x1: x + w * 0.48, y1: y + h - 14, x2: x + w - 2, y2: y + h - 14, stroke: '#444', 'stroke-width': 0.7}, g);
      }
      ['10⁰', '10²', '10⁴'].forEach((s, k) => txt(g, x + k * w / 2, y + h + 10, s, 9, {'text-anchor': 'middle'}));
      const yl = r[2] === 'contour' ? ['10⁰', '10²', '10⁴'] : ['0', '40', '120', '200'];
      yl.forEach((s, k) => {
        const yy = y + h - k * h / (yl.length - 1) * (r[2] === 'contour' ? 1 : 0.95);
        txt(g, 0, 0, s, 7.5, {'text-anchor': 'middle', transform: `translate(${x - 3},${yy}) rotate(-90)`});
      });
    });
  });
})();
</script>
</body></html>
